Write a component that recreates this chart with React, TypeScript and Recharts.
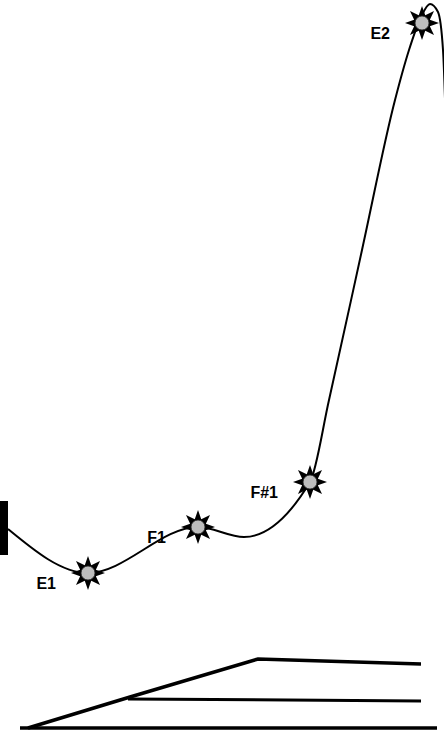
import { ComposedChart, Line, Scatter, XAxis, YAxis, ReferenceArea } from "recharts";

// note positions along the curve (x across, y down)
const noteNames = ["E1", "F1", "F#1", "E2"];
const noteX = [88, 198, 310, 422];
const noteY = [573, 527, 482, 23];

// the traced curve
const curveX = [8, 88, 198, 244, 310, 329, 362, 395, 409, 421, 430, 438, 443, 446];
const curveY = [529, 573, 527, 537, 482, 400, 250, 100, 50, 17, 4, 12, 50, 130];

// lines at the bottom
const baseX = [20, 437];
const baseY = [728, 728];
const rampX = [28, 130, 258, 421];
const rampY = [728, 697, 659, 664];
const midX = [128, 421];
const midY = [699, 701];

const toPts = (xs: number[], ys: number[]) => xs.map((x, i) => ({ x, y: ys[i] }));

const curve = toPts(curveX, curveY);
const base = toPts(baseX, baseY);
const ramp = toPts(rampX, rampY);
const mid = toPts(midX, midY);
const notes = noteNames.map((name, i) => ({ name, x: noteX[i], y: noteY[i] }));

const starPath = (cx: number, cy: number, rOut: number, rIn: number, n: number) => {
  const pts: string[] = [];
  for (let i = 0; i < n * 2; i++) {
    const r = i % 2 === 0 ? rOut : rIn;
    const a = (Math.PI * i) / n - Math.PI / 2;
    pts.push(`${(cx + r * Math.cos(a)).toFixed(2)},${(cy + r * Math.sin(a)).toFixed(2)}`);
  }
  return "M" + pts.join("L") + "Z";
};

const NoteMarker = (props: any) => {
  const { cx, cy, payload } = props;
  return (
    <g>
      <path d={starPath(cx, cy, 17, 8.5, 8)} fill="#000" />
      <circle cx={cx} cy={cy} r={7} fill="#bdbdbd" stroke="#222" strokeWidth={0.8} />
      <text
        x={cx - 32}
        y={cy + 16}
        textAnchor="end"
        fontFamily="'Liberation Sans', Arial, sans-serif"
        fontWeight="bold"
        fontSize={16}
        fill="#000"
      >
        {payload.name}
      </text>
    </g>
  );
};

const App = () => {
  return (
    <div
      style={{
        position: "absolute",
        left: 0,
        top: 0,
        width: 444,
        height: 730,
        overflow: "hidden",
        background: "#fff",
      }}
    >
      <ComposedChart width={444} height={730} margin={{ top: 0, right: 0, bottom: 0, left: 0 }}>
        <XAxis type="number" dataKey="x" domain={[0, 444]} hide allowDataOverflow />
        <YAxis type="number" dataKey="y" domain={[0, 730]} reversed hide allowDataOverflow />
        <ReferenceArea x1={0} x2={8} y1={501} y2={555} fill="#000" fillOpacity={1} ifOverflow="visible" />
        <Line data={base} dataKey="y" type="linear" stroke="#000" strokeWidth={3.5} dot={false} activeDot={false} isAnimationActive={false} />
        <Line data={ramp} dataKey="y" type="linear" stroke="#000" strokeWidth={3.5} dot={false} activeDot={false} isAnimationActive={false} />
        <Line data={mid} dataKey="y" type="linear" stroke="#000" strokeWidth={3} dot={false} activeDot={false} isAnimationActive={false} />
        <Line data={curve} dataKey="y" type="monotoneX" stroke="#000" strokeWidth={2} dot={false} activeDot={false} isAnimationActive={false} />
        <Scatter data={notes} dataKey="y" shape={<NoteMarker />} isAnimationActive={false} />
      </ComposedChart>
    </div>
  );
};

export default App;
